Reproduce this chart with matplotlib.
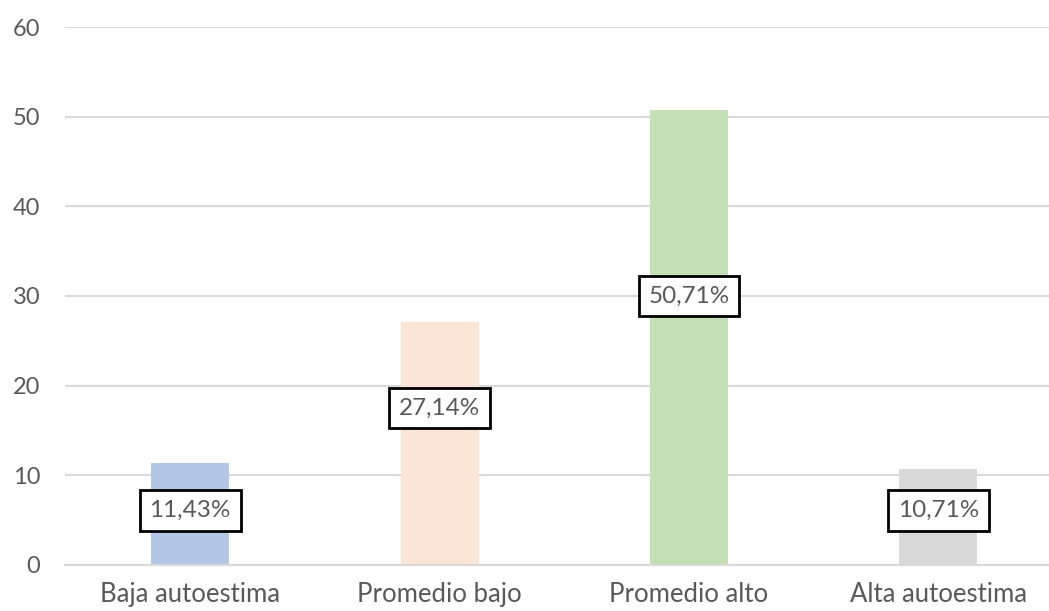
import matplotlib
matplotlib.use("Agg")
import matplotlib.pyplot as plt

categories = ["Baja autoestima", "Promedio bajo", "Promedio alto", "Alta autoestima"]
values = [11.43, 27.14, 50.71, 10.71]
bar_colors = ["#B4C7E7", "#FBE5D6", "#C5E0B4", "#D9D9D9"]
y_ticks = [0, 10, 20, 30, 40, 50, 60]

# vertical placement of the value boxes (data units)
label_heights = [6.1, 17.5, 30.0, 6.1]

plt.rcParams["font.family"] = ["Lato", "DejaVu Sans"]
text_color = "#595959"
grid_color = "#D9D9D9"

fig = plt.figure(figsize=(10.49, 6.11), dpi=100)
ax = fig.add_axes([0.0624, 0.0753, 0.951, 0.8805])

x = range(len(categories))
ax.bar(x, values, width=0.313, color=bar_colors, zorder=2)

for xi, v, h in zip(x, values, label_heights):
    ax.text(xi, h, f"{v:.2f}".replace(".", ",") + "%",
            ha="center", va="center", fontsize=17.5, color=text_color, zorder=4,
            bbox=dict(boxstyle="square,pad=0.4", facecolor="white",
                      edgecolor="black", linewidth=2))

ax.set_xlim(-0.5, len(categories) - 0.5)
ax.set_ylim(0, 60)
ax.set_yticks(y_ticks)
ax.set_yticklabels([str(t) for t in y_ticks])
ax.set_xticks(list(x))
ax.set_xticklabels(categories)
ax.tick_params(axis="y", length=0, labelsize=17, colors=text_color, pad=18)
ax.tick_params(axis="x", length=0, labelsize=18.5, colors=text_color, pad=12)

ax.yaxis.grid(True, color=grid_color, linewidth=1.5, zorder=0)
ax.set_axisbelow(True)
for side in ["top", "right", "left"]:
    ax.spines[side].set_visible(False)
ax.spines["bottom"].set_color(grid_color)
ax.spines["bottom"].set_linewidth(1.5)

fig.savefig("out.png", dpi=100)
